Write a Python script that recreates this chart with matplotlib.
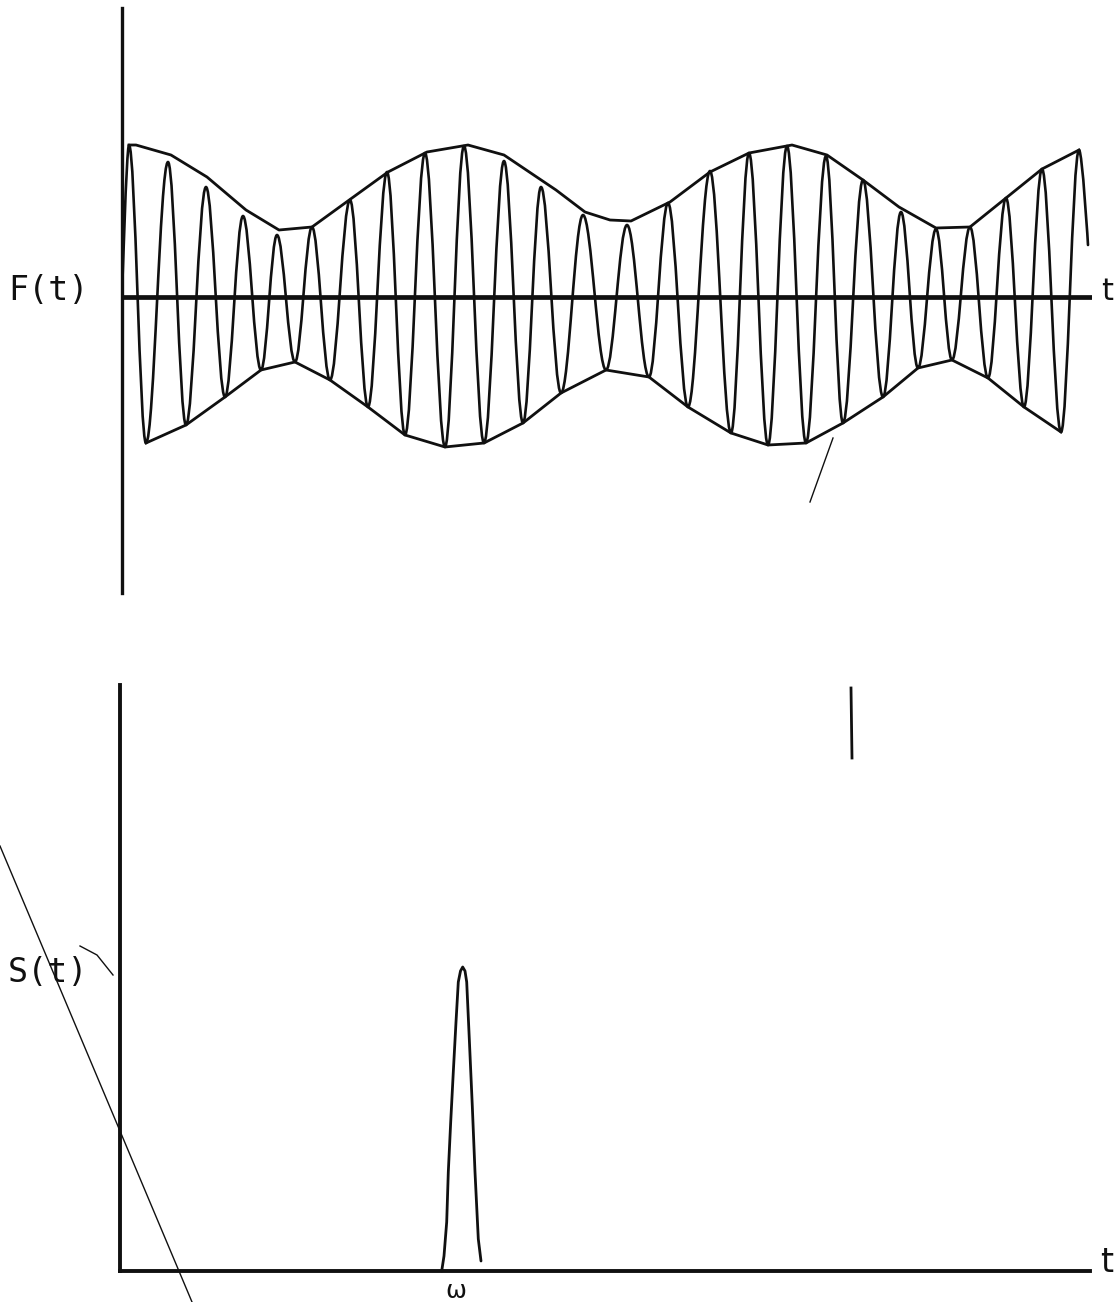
import matplotlib
matplotlib.use("Agg")
import matplotlib.pyplot as plt
from matplotlib.path import Path
from matplotlib.patches import PathPatch
from matplotlib.lines import Line2D

# ---------------- data ----------------
# Upper panel: F(t), carrier extrema (t in plot units, F amplitude)
peak_t = [7, 46, 84, 121, 155, 190, 228, 265, 303, 342, 382, 419, 461,
          505, 546, 588, 627, 665, 704, 741, 779, 814, 848, 884, 920, 957]
peak_F = [152, 135, 110, 81, 62, 70, 97, 125, 144, 151, 136, 110, 82,
          72, 94, 126, 144, 151, 141, 117, 85, 68, 70, 99, 128, 147]
trough_t = [24, 64, 103, 139, 173, 208, 246, 283, 323, 362, 401, 439, 484,
            527, 566, 609, 646, 684, 721, 761, 796, 830, 866, 902, 939]
trough_F = [-146, -128, -100, -73, -65, -83, -110, -138, -150, -146, -126, -96, -73,
            -80, -110, -136, -148, -146, -126, -100, -71, -63, -81, -110, -135]
carrier_start = (0, 0)
carrier_end = (966, 52)

# upper envelope as drawn
env_up_t = [7, 14, 49, 85, 124, 157, 190, 230, 266, 305, 346, 382, 434, 463,
            488, 509, 548, 588, 627, 670, 705, 741, 777, 814, 848, 884, 920, 957]
env_up_F = [152, 152, 142, 120, 87, 67, 70, 99, 125, 145, 152, 142, 107, 85,
            77, 76, 95, 125, 144, 152, 142, 117, 90, 69, 70, 99, 128, 147]

# Lower panel: S(t), single narrow peak at omega
S_t = [321.7, 324, 326.7, 328.3, 330.7, 333.3, 336, 338.3, 340.5, 342.7, 345,
       346.7, 349.3, 352.3, 355, 358.3, 361]
S_val = [0, 15, 49, 99, 149, 199, 249, 289, 300, 304, 300,
         289, 232, 165, 99, 32, 10]

T_MAX = 970
F_TOP, F_BOTTOM = 289, -296
S_TOP = 586

# ---------------- figure ----------------
W, H, DPI = 1116, 1302, 100
fig = plt.figure(figsize=(W / DPI, H / DPI), dpi=DPI)
INK = "#101010"

def fx(px):
    return px / W

def fy(py):
    return 1 - py / H

# upper axes
ax1 = fig.add_axes([fx(122), fy(593), 970 / W, 585 / H])
ax1.set_xlim(0, T_MAX)
ax1.set_ylim(F_BOTTOM, F_TOP)
for s in ("top", "right", "bottom"):
    ax1.spines[s].set_visible(False)
ax1.spines["left"].set_linewidth(2.4)
ax1.spines["left"].set_color(INK)
ax1.set_xticks([])
ax1.set_yticks([])
ax1.patch.set_alpha(0)
ax1.axhline(0, color=INK, lw=3.4, solid_capstyle="butt")

# carrier: smooth half-waves between consecutive extrema
ext = [carrier_start]
for i in range(len(peak_t)):
    ext.append((peak_t[i], peak_F[i]))
    if i < len(trough_t):
        ext.append((trough_t[i], trough_F[i]))
ext.append(carrier_end)

k = 0.3634
verts = [ext[0]]
codes = [Path.MOVETO]
for i in range(len(ext) - 1):
    (t0, f0), (t1, f1) = ext[i], ext[i + 1]
    dt = t1 - t0
    c1 = (t0, f0) if i == 0 else (t0 + k * dt, f0)
    c2 = (t1, f1) if i == len(ext) - 2 else (t1 - k * dt, f1)
    verts += [c1, c2, (t1, f1)]
    codes += [Path.CURVE4] * 3
ax1.add_patch(PathPatch(Path(verts, codes), fill=False, lw=1.9, ec=INK,
                        joinstyle="round", capstyle="round"))

ax1.plot(env_up_t, env_up_F, color=INK, lw=2.0, solid_joinstyle="round")
ax1.plot(trough_t, trough_F, color=INK, lw=2.0, solid_joinstyle="round")

# lower axes
ax2 = fig.add_axes([fx(120), fy(1271), 970 / W, 586 / H])
ax2.set_xlim(0, T_MAX)
ax2.set_ylim(0, S_TOP)
for s in ("top", "right"):
    ax2.spines[s].set_visible(False)
for s in ("left", "bottom"):
    ax2.spines[s].set_linewidth(2.8)
    ax2.spines[s].set_color(INK)
ax2.set_xticks([])
ax2.set_yticks([])
ax2.patch.set_alpha(0)
ax2.plot(S_t, S_val, color=INK, lw=2.0, solid_joinstyle="round",
         solid_capstyle="round", clip_on=False)

# labels
mono = "DejaVu Sans Mono"
fig.text(fx(8), fy(300), "F(t)", family=mono, fontsize=24, color=INK,
         ha="left", va="baseline")
fig.text(fx(1101), fy(300), "t", family="DejaVu Sans", fontsize=22, color=INK,
         ha="left", va="baseline")
fig.text(fx(8), fy(982), "S(t)", family=mono, fontsize=24, color=INK,
         ha="left", va="baseline")
fig.text(fx(1100), fy(1272), "t", family="DejaVu Sans", fontsize=24, color=INK,
         ha="left", va="baseline")
fig.text(fx(456), fy(1298), "\u03c9", fontsize=18, color=INK,
         ha="center", va="baseline")

# scan marks in the reference
fig.add_artist(Line2D([fx(0), fx(192)], [fy(846), fy(1302)], lw=1.0, color=INK))
fig.add_artist(Line2D([fx(810), fx(833)], [fy(502), fy(438)], lw=1.0, color=INK))
fig.add_artist(Line2D([fx(80), fx(97), fx(113)], [fy(946), fy(955), fy(975)],
                      lw=1.0, color=INK))
fig.add_artist(Line2D([fx(851), fx(852)], [fy(688), fy(758)], lw=2.0, color=INK))

fig.savefig("out.png", dpi=DPI, facecolor="white")
